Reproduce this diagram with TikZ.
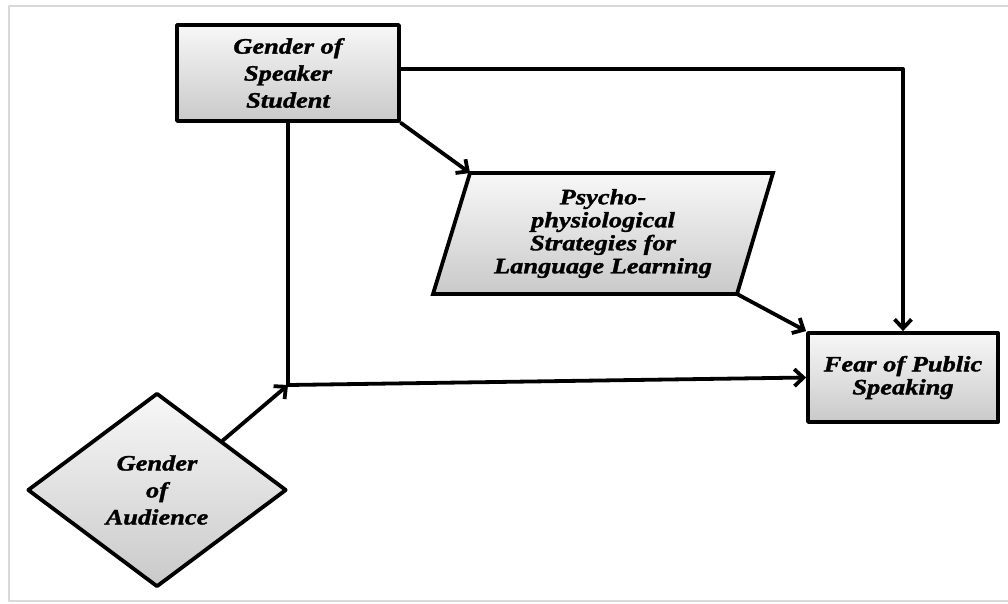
\documentclass[tikz,border=0pt]{standalone}
\usepackage{fontspec}
\setmainfont{Liberation Serif}[FakeStretch=1.2,FakeBold=1.5]
\usetikzlibrary{arrows.meta, shapes.geometric}

\begin{document}
\begin{tikzpicture}[line cap=round,line join=round,>={Straight Barb[length=9pt,width=17pt]},x=1pt,y=-1pt,
  conn/.style={line width=3.8pt},
  shaded/.style={draw,line width=3.8pt,top color=gray!6,bottom color=gray!42},
  block/.style={shaded,align=center,font=\bfseries\itshape\fontsize{22}{27}\selectfont,inner sep=2pt}]
\useasboundingbox (0,0) rectangle (1008,603);

% frame
\draw[gray!30,line width=2pt] (1012,6) -- (9,6) -- (9,601) -- (1012,601);

% parallelogram corners
\coordinate (psyTL) at (470,173);
\coordinate (psyTR) at (773,173);
\coordinate (psyBR) at (737,294);
\coordinate (psyBL) at (433,294);
\draw[shaded,line join=miter] (psyTL) -- (psyTR) -- (psyBR) -- (psyBL) -- cycle;

\node[block,minimum width=222,minimum height=96] (spk) at (288,73) {Gender of\\Speaker\\Student};
\node[align=center,font=\bfseries\itshape\fontsize{22}{23}\selectfont] (psy) at (603,233.5)
  {Psycho-\\physiological\\Strategies for\\Language Learning};
\node[block,minimum width=190,minimum height=89,font=\bfseries\itshape\fontsize{22}{23}\selectfont] (fear) at (903,377.5)
  {Fear of Public\\Speaking};
\node[block,diamond,aspect=1.33,minimum width=259,minimum height=194,inner sep=0pt] (aud) at (157,490)
  {Gender\\of\\Audience};

\coordinate (j) at (288,385);

\draw[conn] (spk.south) -- (j);
\draw[conn,->] (j) -- (fear.west);
\draw[conn,->] (aud.north east) -- (j);
\draw[conn,->] ([yshift=4pt]spk.east) -| (fear.north);
\draw[conn,->] (spk.south east) -- (psyTL);
\draw[conn,->] (psyBR) -- (fear.north west);
\end{tikzpicture}
\end{document}
